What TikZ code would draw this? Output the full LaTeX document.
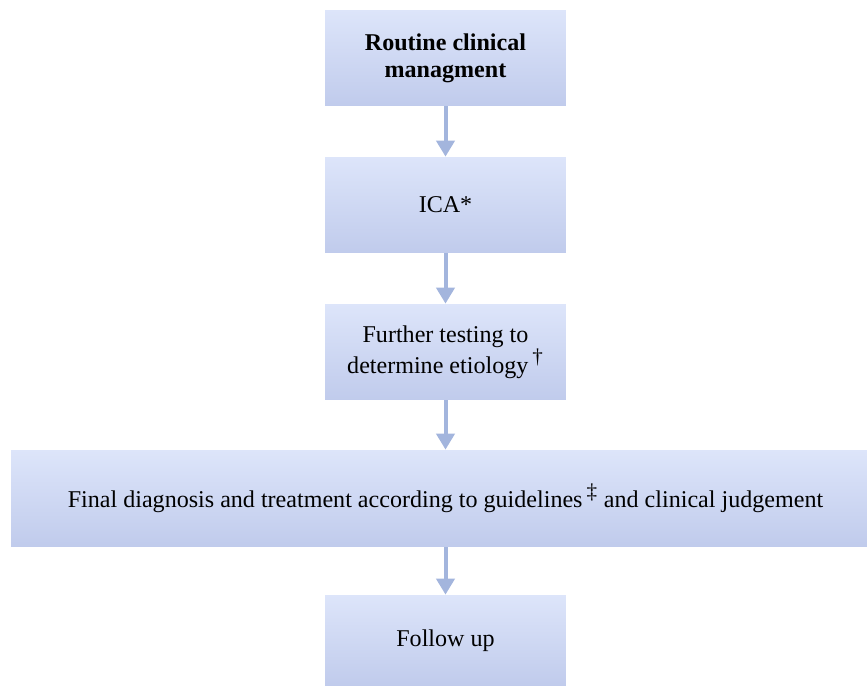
\documentclass[tikz,border=0pt]{standalone}
\usepackage{fontspec}
\setmainfont{Liberation Serif}
\usetikzlibrary{arrows.meta}
\definecolor{boxtop}{RGB}{221,229,250}
\definecolor{boxbot}{RGB}{192,203,236}
\definecolor{arrowc}{RGB}{163,181,221}
\tikzset{
  box/.style={rectangle, top color=boxtop, bottom color=boxbot, draw=none,
    align=center, font=\fontsize{13.7}{15.4}\selectfont, inner sep=0pt},
  smallbox/.style={box, minimum width=4.82cm, minimum height=1.92cm},
  flow/.style={draw=arrowc, line width=0.08cm, -{Triangle[width=0.36cm,length=0.32cm]}}
}
\begin{document}
\begin{tikzpicture}[x=0.02cm,y=-0.02cm]
\useasboundingbox (0,0) rectangle (867,686);
\node[smallbox, font=\fontsize{13.7}{15.4}\selectfont\bfseries] (b1) at (445.5,58) {Routine clinical\\managment};
\node[smallbox] (b2) at (445.5,205) {ICA*};
\node[smallbox] (b3) at (445.5,352) {Further testing to\\determine etiology\,\textsuperscript{\large †}};
\node[box, minimum width=17.38cm, minimum height=1.94cm] (b4) at (445.5,498.5) {Final diagnosis and treatment according to guidelines\,\textsuperscript{\large ‡} and clinical judgement};
\node[box, minimum width=4.82cm, minimum height=1.82cm] (b5) at (445.5,640.5) {Follow up};
\draw[flow] (b1.south) -- (b2.north);
\draw[flow] (b2.south) -- (b3.north);
\draw[flow] (b3.south) -- (b4.north);
\draw[flow] (b4.south) -- (b5.north);
\end{tikzpicture}
\end{document}
